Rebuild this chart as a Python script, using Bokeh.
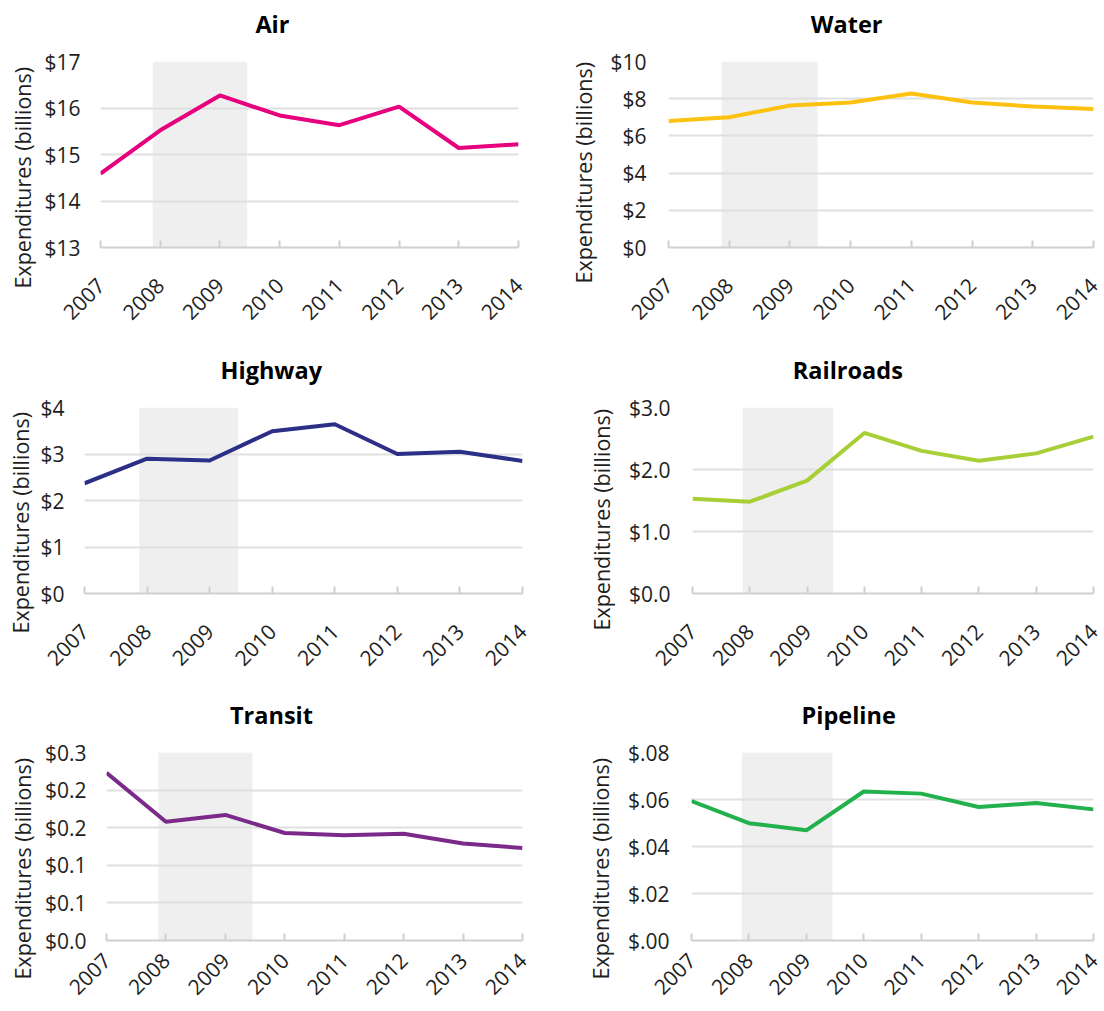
import math
from bokeh.plotting import figure
from bokeh.layouts import column, row
from bokeh.models import Range1d, FixedTicker, CustomJSTickFormatter, BoxAnnotation, Title
from bokeh.embed import file_html
from bokeh.resources import INLINE

# ---------------- data ----------------
years = [2007, 2008, 2009, 2010, 2011, 2012, 2013, 2014]
year_labels = ["2007", "2008", "2009", "2010", "2011", "2012", "2013", "2014"]

air = [14.59, 15.52, 16.27, 15.84, 15.63, 16.03, 15.14, 15.22]
water = [6.80, 7.00, 7.63, 7.80, 8.28, 7.80, 7.58, 7.44]
highway = [2.37, 2.90, 2.86, 3.49, 3.64, 3.00, 3.05, 2.85]
railroads = [1.53, 1.48, 1.82, 2.59, 2.30, 2.14, 2.26, 2.53]
transit = [0.223, 0.158, 0.167, 0.143, 0.140, 0.142, 0.129, 0.123]
pipeline = [0.0593, 0.0499, 0.0469, 0.0634, 0.0625, 0.0568, 0.0585, 0.0558]

air_ticks = [13, 14, 15, 16, 17]
air_tick_labels = ["$13", "$14", "$15", "$16", "$17"]
water_ticks = [0, 2, 4, 6, 8, 10]
water_tick_labels = ["$0", "$2", "$4", "$6", "$8", "$10"]
highway_ticks = [0, 1, 2, 3, 4]
highway_tick_labels = ["$0", "$1", "$2", "$3", "$4"]
railroads_ticks = [0, 1, 2, 3]
railroads_tick_labels = ["$0.0", "$1.0", "$2.0", "$3.0"]
transit_ticks = [0, 0.05, 0.10, 0.15, 0.20, 0.25]
transit_tick_labels = ["$0.0", "$0.1", "$0.1", "$0.2", "$0.2", "$0.3"]
pipeline_ticks = [0, 0.02, 0.04, 0.06, 0.08]
pipeline_tick_labels = ["$.00", "$.02", "$.04", "$.06", "$.08"]

recession_start = 2007.875   # Dec 2007
recession_end = 2009.455     # Jun 2009

y_title = "Expenditures (billions)"
FONT = "Open Sans"


def tick_formatter(tvals, tlabels):
    return CustomJSTickFormatter(
        args=dict(tvals=tvals, tlabels=tlabels),
        code="""
        for (let i = 0; i < tvals.length; i++) {
            if (Math.abs(tvals[i] - tick) < 1e-9) return tlabels[i];
        }
        return "";
        """)


def panel(title, values, color, yticks, ylabels, width, height,
          mbl, frame_w, mbt, frame_h, fig_left, title_left, ylab_off,
          xstandoff, ystandoff, ytitle_standoff):
    mbr = width - mbl - frame_w
    mbb = height - mbt - frame_h
    p = figure(width=width, height=height,
               x_range=Range1d(years[0], years[-1]),
               y_range=Range1d(yticks[0], yticks[-1]),
               output_backend="svg", toolbar_location=None,
               title_location=None,
               min_border_left=mbl, min_border_right=mbr,
               min_border_top=mbt, min_border_bottom=mbb)
    p.outline_line_color = None
    p.background_fill_color = "white"
    p.border_fill_color = "white"

    p.add_layout(BoxAnnotation(left=recession_start, right=recession_end,
                               fill_color="#efefef", fill_alpha=1.0,
                               line_color=None, level="image"))

    p.xgrid.visible = False
    p.ygrid.grid_line_color = "#e0e0e0"
    p.ygrid.grid_line_width = 2
    p.ygrid.ticker = FixedTicker(ticks=yticks)

    p.yaxis.ticker = FixedTicker(ticks=yticks)
    p.yaxis.formatter = tick_formatter(yticks, ylabels)
    p.yaxis.axis_line_color = None
    p.yaxis.major_tick_line_color = None
    p.yaxis.major_tick_out = 0
    p.yaxis.major_tick_in = 0
    p.yaxis.minor_tick_line_color = None
    p.yaxis.minor_tick_out = 0
    p.yaxis.major_label_standoff = ystandoff
    p.yaxis.major_label_text_font = FONT
    p.yaxis.major_label_text_font_size = "21px"
    p.yaxis.major_label_text_color = "#1e1e1e"

    p.xaxis.ticker = FixedTicker(ticks=years)
    p.xaxis.formatter = tick_formatter(years, year_labels)
    p.xaxis.axis_line_color = "#d0d0d0"
    p.xaxis.axis_line_width = 2
    p.xaxis.major_tick_in = 7
    p.xaxis.major_tick_out = 0
    p.xaxis.major_tick_line_color = "#d0d0d0"
    p.xaxis.major_tick_line_width = 2
    p.xaxis.minor_tick_line_color = None
    p.xaxis.minor_tick_out = 0
    p.xaxis.major_label_orientation = math.pi / 4
    p.xaxis.major_label_standoff = xstandoff
    p.xaxis.major_label_text_font = FONT
    p.xaxis.major_label_text_font_size = "21px"
    p.xaxis.major_label_text_color = "#1e1e1e"

    p.line(years, values, line_color=color, line_width=4)

    frame_left_page = fig_left + mbl
    # spacer between the frame and the chart title
    p.add_layout(Title(text=" ", text_font_size="18px", standoff=0), "above")
    p.add_layout(Title(text=title, align="left", offset=title_left - frame_left_page,
                       text_font=FONT, text_font_style="bold",
                       text_font_size="23.5px", text_color="#000000",
                       standoff=0), "above")
    p.add_layout(Title(text=y_title, align="left", offset=ylab_off,
                       text_font=FONT, text_font_style="normal",
                       text_font_size="21.5px", text_color="#1e1e1e",
                       standoff=ytitle_standoff), "left")
    return p


LW, RW = 556, 548
L0, R0 = 0, 556

p1 = panel("Air", air, "#e6007e", air_ticks, air_tick_labels,
           LW, 346, 100, 418, 61, 186, L0, 254.9, -41, 34, 20, 10)
p2 = panel("Water", water, "#fdc210", water_ticks, water_tick_labels,
           RW, 346, 112, 425, 61, 191, R0, 810.3, -36, 34, 22, 20)
p3 = panel("Highway", highway, "#2b2f85", highway_ticks, highway_tick_labels,
           LW, 345, 84, 438, 61, 186, L0, 220.0, -40, 34, 20, 6)
p4 = panel("Railroads", railroads, "#a8cf38", railroads_ticks, railroads_tick_labels,
           RW, 345, 136, 401, 61, 189, R0, 792.3, -37, 34, 22, 20)
p5 = panel("Transit", transit, "#7b2a8a", transit_ticks, transit_tick_labels,
           LW, 320, 106, 416, 61, 188, L0, 229.5, -39, 16, 20, 10)
p6 = panel("Pipeline", pipeline, "#22b14c", pipeline_ticks, pipeline_tick_labels,
           RW, 320, 135, 402, 61, 188, R0, 801.0, -39, 16, 22, 20)

layout = column(row(p1, p2), row(p3, p4), row(p5, p6))
open("out.html", "w").write(file_html(layout, INLINE))
